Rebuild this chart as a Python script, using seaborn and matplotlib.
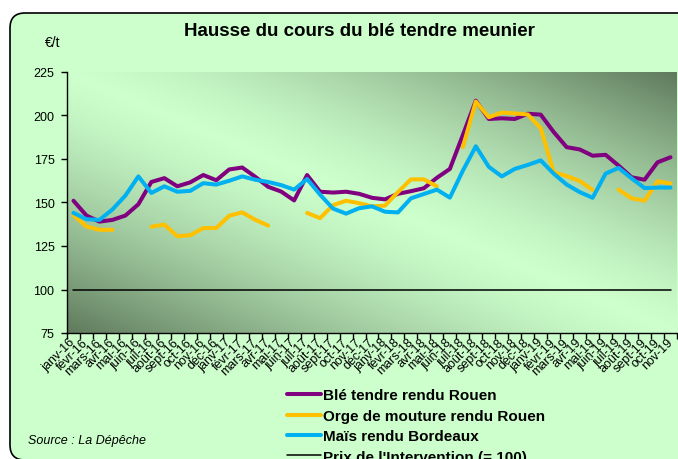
import numpy as np
import pandas as pd
import matplotlib
matplotlib.use("Agg")
import matplotlib.pyplot as plt
import seaborn as sns
from matplotlib.lines import Line2D
from matplotlib.patches import FancyBboxPatch
from matplotlib.colors import LinearSegmentedColormap
from matplotlib.transforms import IdentityTransform

nan = np.nan

# mois de janv-16 a nov-19
mois_noms = ['janv', 'févr', 'mars', 'avr', 'mai', 'juin',
             'juil', 'août', 'sept', 'oct', 'nov', 'déc']
mois = [f'{m}-{a}' for a in ['16', '17', '18', '19'] for m in mois_noms][:47]

# prix en euros/t
ble = [151, 142.5, 139, 140, 142.5, 149, 161.8, 164, 159.3, 161.6,
       165.8, 162.8, 169, 170.1, 164.8, 159, 156.3, 151.2, 165.8, 156.2,
       155.7, 156.2, 155, 152.7, 151.8, 155, 156.5, 158.2, 164.2, 169.3,
       188.8, 208.5, 198, 198.4, 198, 201, 200.5, 190.5, 181.8, 180.5,
       176.9, 177.4, 171.2, 164.5, 163.1, 173.1, 176]
orge = [142.8, 136.2, 134.3, 134.3, nan, nan, 136.1, 137.3, 130.6, 131.2,
        135.3, 135.3, 142.4, 144.3, 140.1, 136.7, nan, nan, 144, 141,
        148.5, 151, 149.6, 147.8, 148.2, 156, 163.3, 163.3, 159.3, nan,
        181.8, 208, 199, 201.7, 201.2, 200.6, 192.7, 167.4, 165.2, 162.4,
        157.2, nan, 157.4, 152.4, 151, 162.2, 160.9]
mais = [144, 140.4, 140, 146, 154, 165, 155.5, 159.3, 156.2, 156.7,
        161.1, 160.3, 162.5, 165, 163.1, 161.8, 160, 157.4, 163.5, 154.5,
        146.5, 143.6, 146.7, 147.8, 144.7, 144.3, 152.4, 154.9, 157.4, 152.8,
        168.3, 182.3, 170.5, 165, 169.3, 171.6, 174.2, 166.6, 160.3, 156,
        152.7, 166.6, 169.9, 163.9, 158.3, 158.6, 158.6]
intervention = [100] * len(mois)

noms = ['Blé tendre rendu Rouen', 'Orge de mouture rendu Rouen',
        'Maïs rendu Bordeaux', "Prix de l'Intervention (= 100)"]
valeurs = [ble, orge, mais, intervention]
couleurs = ['#800080', '#ffc000', '#00b0f0', '#000000']
epaisseurs = [2.9, 2.9, 2.9, 1.1]

sns.set_style("ticks")
plt.rcParams['font.family'] = ['Liberation Sans', 'DejaVu Sans']
plt.rcParams['text.color'] = 'black'
plt.rcParams['xtick.color'] = 'black'
plt.rcParams['ytick.color'] = 'black'

fig = plt.figure(figsize=(6.78, 4.6), dpi=100)
fig.patch.set_facecolor('white')

# cadre arrondi vert clair
cadre = FancyBboxPatch((10, -1), 700, 447, boxstyle="round,pad=0,rounding_size=15",
                       transform=IdentityTransform(), facecolor='#ccffcc',
                       edgecolor='black', lw=1.2, zorder=0)
fig.add_artist(cadre)

ax = fig.add_axes([67 / 678, 1 - 334 / 460, 610 / 678, 261 / 460])
ax.set_facecolor('none')

# fond degrade de la zone de tracé
fond = LinearSegmentedColormap.from_list('fond', ['#ccffcc', '#5f7a5c'])
u = np.linspace(0, 1, 400)[None, :]
v = np.linspace(1, 0, 200)[:, None]
grad = np.abs(u + v - 1) ** 1.4
ax.imshow(grad, cmap=fond, vmin=0, vmax=1, extent=[0, 1, 0, 1],
          transform=ax.transAxes, aspect='auto', zorder=0, interpolation='bilinear')

df = pd.DataFrame({'idx': np.arange(len(mois)), 'mois': mois})
for nom, val, c, lw in zip(noms, valeurs, couleurs, epaisseurs):
    df[nom] = val
    manque = df[nom].isna()
    sub = df.loc[~manque, ['idx', nom]].copy()
    sub['seg'] = manque.cumsum()[~manque]
    sns.lineplot(data=sub, x='idx', y=nom, units='seg', estimator=None,
                 color=c, lw=lw, ax=ax, legend=False, zorder=3)

ax.set_xlim(-0.5, len(mois) - 0.5)
ax.set_ylim(75, 225)
ax.set_xlabel('')
ax.set_ylabel('')
ax.set_yticks(range(75, 226, 25))
ax.set_xticks(df['idx'])
ax.set_xticklabels(mois, rotation=45, ha='right', va='center',
                   rotation_mode='anchor', fontsize=9)
ax.set_xticks(np.arange(-0.5, len(mois), 1), minor=True)
ax.tick_params(axis='x', which='major', length=0, pad=5)
ax.tick_params(axis='x', which='minor', length=4, width=1, color='black')
ax.tick_params(axis='y', length=4, width=1, color='black', labelsize=9, pad=5)
sns.despine(ax=ax)
for s in ['left', 'bottom']:
    ax.spines[s].set_color('black')
    ax.spines[s].set_linewidth(1)

fig.text(359 / 678, 1 - 32 / 460, 'Hausse du cours du blé tendre meunier',
         ha='center', va='center', fontsize=13.5, fontweight='bold')
fig.text(53 / 678, 1 - 43 / 460, '€/t', ha='center', va='center', fontsize=10)
fig.text(28 / 678, 1 - 441 / 460, 'Source : La Dépêche', ha='left', va='center',
         fontsize=9, style='italic')

poignees = [Line2D([], [], color=c, lw=lw, solid_capstyle='round')
            for c, lw in zip(couleurs, epaisseurs)]
fig.legend(poignees, noms, loc='upper left', bbox_to_anchor=(287 / 678, 1 - 389.5 / 460),
           frameon=False, prop={'weight': 'bold', 'size': 11}, handlelength=2.2,
           handletextpad=0.15, labelspacing=0.42, borderpad=0, borderaxespad=0)

fig.savefig('out.png', dpi=100)
